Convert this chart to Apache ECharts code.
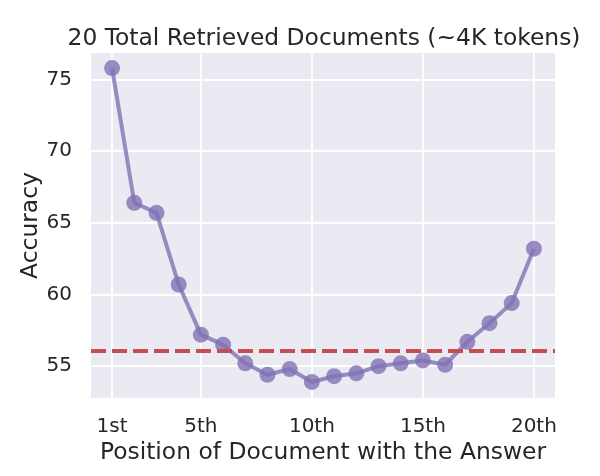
<!DOCTYPE html>
<html>
<head>
<meta charset="utf-8">
<script src="https://cdn.jsdelivr.net/npm/echarts@6/dist/echarts.min.js"></script>
<style>
  html, body { margin: 0; padding: 0; background: #ffffff; }
  #chart { width: 600px; height: 476px; }
</style>
</head>
<body>
<div id="chart"></div>
<script>
// 文档位置 (1..20) 与对应的准确率
var positions = [1, 2, 3, 4, 5, 6, 7, 8, 9, 10, 11, 12, 13, 14, 15, 16, 17, 18, 19, 20];
var accuracy = [75.8, 66.4, 65.7, 60.7, 57.2, 56.5, 55.2, 54.4, 54.8, 53.9,
                54.3, 54.5, 55.0, 55.2, 55.4, 55.1, 56.7, 58.0, 59.4, 63.2];
// 闭卷基线（虚线）
var closedBook = 56.1;
// 刻度
var xTickValues = [1, 5, 10, 15, 20];
var xTickLabels = ['1st', '5th', '10th', '15th', '20th'];
var yTickValues = [55, 60, 65, 70, 75];

var FONT = '"DejaVu Sans", sans-serif';
var TEXT = '#262626';

var lineData = [];
for (var i = 0; i < positions.length; i++) {
    lineData.push([positions[i], accuracy[i]]);
}

var chart = echarts.init(document.getElementById('chart'));
chart.setOption({
    animation: false,
    backgroundColor: '#ffffff',
    title: {
        text: '20 Total Retrieved Documents (~4K tokens)',
        left: 319,
        textAlign: 'center',
        top: 22,
        textStyle: { fontFamily: FONT, fontSize: 23.4, fontWeight: 'normal', color: TEXT }
    },
    grid: {
        left: 91, right: 45, top: 53, bottom: 78,
        show: true, backgroundColor: '#eaeaf2', borderWidth: 0
    },
    xAxis: {
        type: 'value',
        min: 0.05,
        max: 20.95,
        name: 'Position of Document with the Answer',
        nameLocation: 'middle',
        nameGap: 42,
        nameTextStyle: { fontFamily: FONT, fontSize: 23.4, color: TEXT },
        axisLine: { show: false },
        axisTick: { show: false, customValues: xTickValues },
        axisLabel: {
            customValues: xTickValues,
            margin: 19,
            fontFamily: FONT, fontSize: 20, color: TEXT,
            formatter: function (v) {
                return xTickLabels[xTickValues.indexOf(v)];
            }
        },
        splitLine: { show: true, lineStyle: { color: '#ffffff', width: 1.8 } }
    },
    yAxis: {
        type: 'value',
        min: 52.78,
        max: 76.85,
        name: 'Accuracy',
        nameLocation: 'middle',
        nameGap: 49,
        nameMoveOverlap: false,
        nameTextStyle: { fontFamily: FONT, fontSize: 23.4, color: TEXT },
        axisLine: { show: false },
        axisTick: { show: false, customValues: yTickValues },
        axisLabel: {
            customValues: yTickValues,
            margin: 19,
            fontFamily: FONT, fontSize: 20, color: TEXT
        },
        splitLine: { show: true, lineStyle: { color: '#ffffff', width: 1.8 } }
    },
    series: [{
        type: 'line',
        data: lineData,
        symbol: 'circle',
        symbolSize: 16,
        z: 2,
        lineStyle: { color: '#8172b3', width: 4, opacity: 0.8 },
        itemStyle: { color: '#8172b3', opacity: 0.8 }
    }, {
        type: 'line',
        data: [],
        z: 5,
        markLine: {
            silent: true,
            symbol: 'none',
            label: { show: false },
            lineStyle: { color: '#c44e52', width: 4, type: [15, 6], opacity: 1 },
            data: [{ yAxis: closedBook }]
        }
    }]
});
</script>
</body>
</html>
